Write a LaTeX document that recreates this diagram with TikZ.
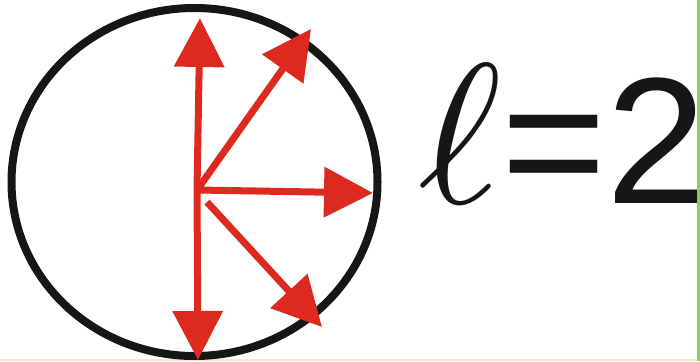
\documentclass[tikz,border=0pt]{standalone}
\usepackage{fontspec}
\setmainfont{Liberation Sans}
\usetikzlibrary{arrows.meta}

\definecolor{vecred}{RGB}{222,42,30}
\definecolor{rimblack}{RGB}{21,23,22}
\definecolor{edgegreen}{RGB}{140,210,90}
\definecolor{palegreen}{RGB}{225,242,210}

\tikzset{
  vec/.style={draw=vecred, line width=7pt,
    -{Triangle[length=49pt,width=49pt,fill=vecred]}},
  rim/.style={draw=rimblack, line width=8pt}
}

\begin{document}
\begin{tikzpicture}[x=1pt,y=-1pt]

    \useasboundingbox (0,0) rectangle (700,361);

    % rand rechts und unten
    \fill[edgegreen] (697,0) rectangle (700,361);
    \fill[palegreen] (0,359) rectangle (697,361);

    % kreis
    \draw[rim] (194.5,182) ellipse (183 and 174);

    % ursprung und spitzen
    \coordinate (o) at (197,190);
    \coordinate (o2) at (207,202);
    \coordinate (tUp) at (200,18);
    \coordinate (tUR) at (311,29);
    \coordinate (tR) at (373,193);
    \coordinate (tDR) at (322,327);
    \coordinate (tDn) at (198,360);

    % pfeile
    \draw[vec] (o) -- (tUp);
    \draw[vec] (o) -- (tUR);
    \draw[vec] (o) -- (tR);
    \draw[vec] (o2) -- (tDR);
    \draw[vec] (o) -- (tDn);

    % beschriftung
    \node[anchor=base west, inner sep=0pt, text=rimblack] (lab) at (418,203)
        {\scalebox{20}{$\ell$}\fontsize{180}{180}\selectfont=2};

\end{tikzpicture}
\end{document}
